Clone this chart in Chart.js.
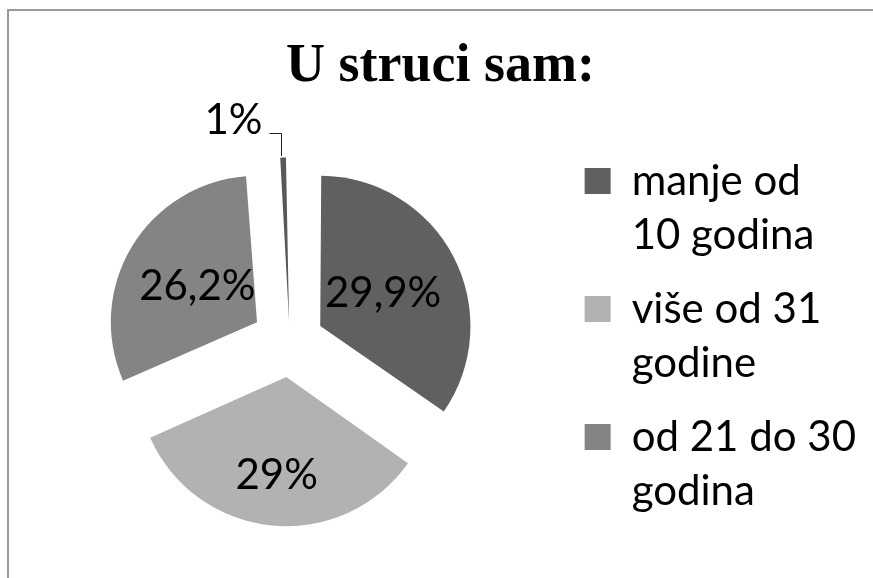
<!DOCTYPE html>
<html>
<head>
<meta charset="utf-8">
<title>U struci sam</title>
<script src="https://cdn.jsdelivr.net/npm/chart.js@4.4.0/dist/chart.umd.min.js"></script>
<style>
  html, body { margin: 0; padding: 0; background: #fff; overflow: hidden; }
  body { width: 873px; height: 578px; position: relative; }
  #frame {
    position: absolute; left: 7px; top: 9px; width: 900px; height: 600px;
    border-top: 2px solid #9a9a9a; border-left: 2px solid #9a9a9a;
  }
  #wrap { position: absolute; left: 0; top: 0; width: 866px; height: 584px; }
</style>
</head>
<body>
<div id="frame"></div>
<div id="wrap"><canvas id="chart"></canvas></div>
<script>
// chart data
const chartTitle = 'U struci sam:';
const categories = [
    ['manje od', '10 godina'],
    ['više od 31', 'godine'],
    ['od 21 do 30', 'godina'],
    ['od 11 do 20', 'godina']   // cut off from the legend in the original
];
const shares = [29.9, 29, 26.2, 1];
const sliceColors = ['#606060', '#b2b2b2', '#848484', '#585858'];
const legendCount = 3;

// pie look
const pieRadius = 144;
const tipReach = 184.5;     // outer edge of the pulled-out slices, from the centre
// where each percentage sits, as a share of the radius from the centre (null = callout)
const labelDistance = [0.73, 0.93, 0.75, null];

function formatShare(v) {
    return String(v).replace('.', ',') + '%';
}

// Chart.js moves a slice by offset/4 and also grows it by offset/4 * (1 - sin(angle)),
// so work the offset back from the wanted outer edge
function sliceOffset(c) {
    const total = shares.reduce((a, b) => a + b, 0);
    const angle = c.raw / total * 2 * Math.PI;
    const fix = 1 - Math.sin(Math.min(Math.PI, angle));
    return 4 * (tipReach - pieRadius) / (1 + fix);
}

// draws the percentage labels on the slices
const sliceLabels = {
    id: 'sliceLabels',
    afterDatasetsDraw(chart) {
        const ctx = chart.ctx;
        const meta = chart.getDatasetMeta(0);
        ctx.save();
        ctx.fillStyle = '#000';
        ctx.strokeStyle = '#222';
        ctx.lineWidth = 1;
        ctx.font = '42px Lato';
        meta.data.forEach((arc, i) => {
            const p = arc.getProps(['x', 'y', 'startAngle', 'endAngle', 'outerRadius']);
            const mid = (p.startAngle + p.endAngle) / 2;
            const text = formatShare(shares[i]);
            if (labelDistance[i] === null) {
                const shift = arc.options.offset / 4;
                const fix = 1 - Math.sin(Math.min(Math.PI, p.endAngle - p.startAngle));
                const reach = p.outerRadius + shift * (1 + fix);
                const tx = Math.round(p.x + Math.cos(mid) * reach) - 1.5;
                const ty = Math.round(p.y + Math.sin(mid) * reach);
                ctx.beginPath();
                ctx.moveTo(tx, ty - 2);
                ctx.lineTo(tx, ty - 24.5);
                ctx.lineTo(tx - 12, ty - 24.5);
                ctx.stroke();
                ctx.textAlign = 'right';
                ctx.textBaseline = 'alphabetic';
                ctx.fillText(text, tx - 19, ty - 24);
            } else {
                const d = labelDistance[i] * p.outerRadius;
                ctx.textAlign = 'center';
                ctx.textBaseline = 'middle';
                ctx.fillText(text, p.x + Math.cos(mid) * d, p.y + Math.sin(mid) * d);
            }
        });
        ctx.restore();
    }
};

const ctx = document.getElementById('chart').getContext('2d');
const pieChart = new Chart(ctx, {
    type: 'pie',
    data: {
        labels: categories,
        datasets: [{
            data: shares,
            backgroundColor: sliceColors,
            borderWidth: 0,
            offset: sliceOffset
        }]
    },
    options: {
        responsive: true,
        maintainAspectRatio: false,
        animation: false,
        radius: pieRadius,
        layout: {
            padding: { left: 15, right: 0, top: 0, bottom: 0 }
        },
        plugins: {
            title: {
                display: true,
                text: chartTitle,
                color: '#000',
                font: { family: 'Liberation Serif', size: 54, weight: 'bold', lineHeight: 1.2 },
                padding: { top: 35, bottom: 0 }
            },
            legend: {
                position: 'right',
                align: 'start',
                // empty title, only used to push the items down next to the pie
                title: {
                    display: true,
                    text: '',
                    font: { size: 1, lineHeight: 1 },
                    padding: { top: 139, bottom: 0 }
                },
                labels: {
                    color: '#000',
                    boxWidth: 26,
                    boxHeight: 26,
                    padding: 20,
                    font: { family: 'Lato', size: 42, lineHeight: 1.286 },
                    filter: (item) => item.index < legendCount
                }
            },
            tooltip: { enabled: false }
        }
    },
    plugins: [sliceLabels]
});
</script>
</body>
</html>
